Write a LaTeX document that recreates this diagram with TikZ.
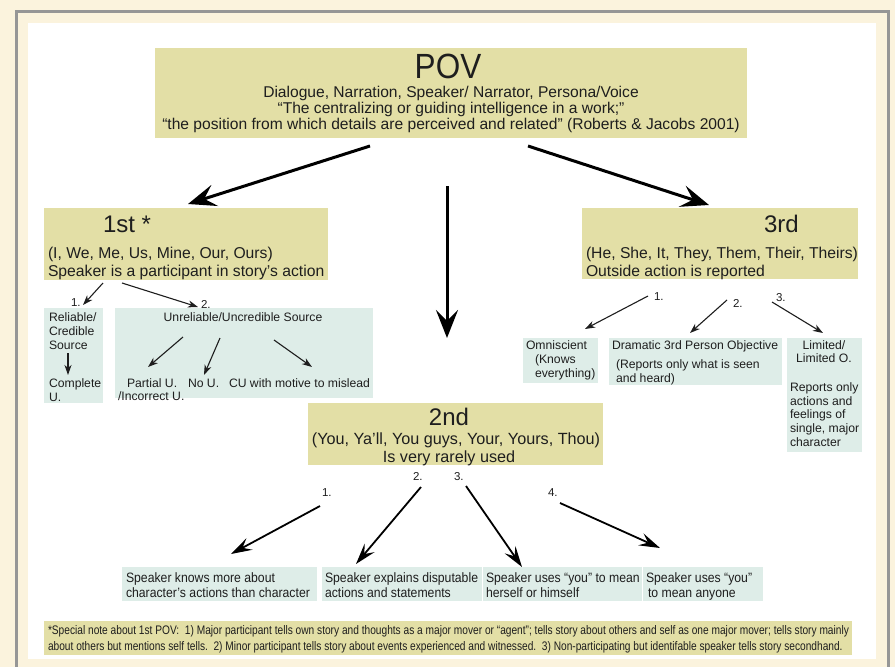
\documentclass[tikz,border=0pt]{standalone}
\usepackage{fontspec}
\setmainfont{Liberation Sans}
\newfontfamily\narrowfont[FakeStretch=0.9]{Liberation Sans}
\newfontfamily\notefont[FakeStretch=0.82]{Liberation Sans}
\usetikzlibrary{arrows.meta}
\definecolor{cream}{RGB}{251,243,221}
\definecolor{framegray}{RGB}{150,150,150}
\definecolor{khaki}{RGB}{227,223,166}
\definecolor{mint}{RGB}{222,237,232}
\definecolor{ink}{RGB}{30,30,30}
\begin{document}
\begin{tikzpicture}[x=1pt,y=-1pt,
  kbox/.style={fill=khaki, draw=none, anchor=north west, inner sep=0pt, outer sep=0pt},
  mbox/.style={fill=mint, draw=none, anchor=north west, inner sep=0pt, outer sep=0pt},
  txt/.style={inner sep=0pt, outer sep=0pt, text=ink, anchor=base west},
  ctxt/.style={txt, anchor=base},
  big/.style={font=\narrowfont\fontsize{35}{40}\selectfont},
  head/.style={font=\fontsize{24}{28}\selectfont},
  mid/.style={font=\fontsize{15.7}{18}\selectfont},
  povline/.style={font=\fontsize{15.6}{18}\selectfont},
  small/.style={font=\fontsize{12.2}{14}\selectfont},
  bot/.style={font=\narrowfont\fontsize{13.6}{16}\selectfont},
  note/.style={font=\notefont\fontsize{12.4}{14}\selectfont},
  num/.style={font=\fontsize{11.5}{13}\selectfont},
  bigarrow/.style={-{Stealth[length=28pt,width=22pt,inset=11pt]}, line width=3pt, draw=black},
  medarrow/.style={-{Stealth[length=21pt,width=13pt,inset=8pt]}, line width=1.8pt, draw=black},
  smallarrow/.style={-{Stealth[length=10pt,width=7pt,inset=3pt]}, line width=1.1pt, draw=ink}
]
% background and frame
\fill[cream] (0,0) rectangle (895,667);
\useasboundingbox (0,0) rectangle (895,667);
\fill[white] (28,23) rectangle (876,659);
\draw[framegray, line width=3.5pt] (16.5,667) -- (16.5,11.5) -- (888.5,11.5) -- (888.5,667);

% ---------- POV ----------
\node[kbox, minimum width=592pt, minimum height=90pt] (pov) at (155,48) {};
\node[ctxt, big] (povT) at (448,78) {POV};
\node[ctxt, povline] (povA) at (451,97) {Dialogue, Narration, Speaker/ Narrator, Persona/Voice};
\node[ctxt, povline] (povB) at (451,113) {“The centralizing or guiding intelligence in a work;”};
\node[ctxt, povline] (povC) at (451,129) {“the position from which details are perceived and related” (Roberts \& Jacobs 2001)};

% ---------- 1st ----------
\node[kbox, minimum width=284pt, minimum height=72pt] (first) at (44,208) {};
\node[txt, head] (firstT) at (103,232) {1st *};
\node[txt, mid] (firstA) at (48,258) {(I, We, Me, Us, Mine, Our, Ours)};
\node[txt, mid] (firstB) at (48,276) {Speaker is a participant in story’s action};

% ---------- 3rd ----------
\node[kbox, minimum width=276pt, minimum height=71pt] (third) at (582,208) {};
\node[txt, head] (thirdT) at (764,232) {3rd};
\node[txt, mid] (thirdA) at (586,258) {(He, She, It, They, Them, Their, Theirs)};
\node[txt, mid] (thirdB) at (586,276) {Outside action is reported};

% ---------- 2nd ----------
\node[kbox, minimum width=295pt, minimum height=62pt] (second) at (308,403) {};
\node[ctxt, head] (secondT) at (449,425) {2nd};
\node[ctxt, mid, font=\fontsize{16.2}{18}\selectfont] (secondA) at (456,444) {(You, Ya’ll, You guys, Your, Yours, Thou)};
\node[ctxt, mid, font=\fontsize{16.2}{18}\selectfont] (secondB) at (449,462) {Is very rarely used};

% ---------- main arrows ----------
\coordinate (pL) at (370,146);
\coordinate (fT) at (188,204);
\coordinate (pR) at (528,146);
\coordinate (tT) at (709,205);
\coordinate (pC) at (447,186);
\coordinate (sT) at (447,338);
\draw[bigarrow] (pL) -- (fT);
\draw[bigarrow] (pR) -- (tT);
\draw[bigarrow] (pC) -- (sT);

% ---------- 1st subdivisions ----------
\node[mbox, minimum width=59pt, minimum height=95pt] (rel) at (44,308) {};
\node[mbox, minimum width=258pt, minimum height=90pt] (unrel) at (115,308) {};
\node[txt, num] (n11) at (71,306) {1.};
\node[txt, num] (n12) at (201,308) {2.};
\coordinate (f1s) at (103,283);
\coordinate (f1e) at (83,305);
\coordinate (f2s) at (122,283);
\coordinate (f2e) at (198,307);
\draw[smallarrow] (f1s) -- (f1e);
\draw[smallarrow] (f2s) -- (f2e);

\node[txt, small] (relA) at (49,321) {Reliable/};
\node[txt, small] (relB) at (49,335) {Credible};
\node[txt, small] (relC) at (49,349) {Source};
\node[txt, small] (relD) at (49,387) {Complete};
\node[txt, small] (relE) at (49,401) {U.};
\coordinate (rA) at (68,353);
\coordinate (rB) at (68,375);
\draw[smallarrow] (rA) -- (rB);

\node[ctxt, small] (unA) at (243,321) {Unreliable/Uncredible Source};
\node[txt, small] (unB) at (127,387) {Partial U.};
\node[txt, small] (unC) at (188,387) {No U.};
\node[txt, small] (unD) at (229,387) {CU with motive to mislead};
\node[txt, small] (unE) at (118,400) {/Incorrect U.};
\coordinate (u1s) at (183,337);
\coordinate (u1e) at (148,367);
\coordinate (u2s) at (220,338);
\coordinate (u2e) at (204,375);
\coordinate (u3s) at (274,340);
\coordinate (u3e) at (312,367);
\draw[smallarrow] (u1s) -- (u1e);
\draw[smallarrow] (u2s) -- (u2e);
\draw[smallarrow] (u3s) -- (u3e);

% ---------- 3rd subdivisions ----------
\node[mbox, minimum width=75pt, minimum height=45pt] (omni) at (523,338) {};
\node[mbox, minimum width=173pt, minimum height=47pt] (drama) at (609,338) {};
\node[mbox, minimum width=75pt, minimum height=114pt] (lim) at (787,338) {};
\node[txt, num] (n31) at (654,300) {1.};
\node[txt, num] (n32) at (733,307) {2.};
\node[txt, num] (n33) at (776,301) {3.};
\coordinate (t1s) at (648,296);
\coordinate (t1e) at (585,329);
\coordinate (t2s) at (727,300);
\coordinate (t2e) at (690,333);
\coordinate (t3s) at (772,302);
\coordinate (t3e) at (823,333);
\draw[smallarrow] (t1s) -- (t1e);
\draw[smallarrow] (t2s) -- (t2e);
\draw[smallarrow] (t3s) -- (t3e);

\node[txt, small] (omA) at (526,349) {Omniscient};
\node[txt, small] (omB) at (535,363) {(Knows};
\node[txt, small] (omC) at (535,377) {everything)};
\node[txt, small] (drA) at (612,349) {Dramatic 3rd Person Objective};
\node[txt, small] (drB) at (616,368) {(Reports only what is seen};
\node[txt, small] (drC) at (616,382) {and heard)};
\node[ctxt, small] (liA) at (824,349) {Limited/};
\node[ctxt, small] (liB) at (824,362) {Limited O.};
\node[txt, small] (liC) at (790,391) {Reports only};
\node[txt, small] (liD) at (790,405) {actions and};
\node[txt, small] (liE) at (790,418) {feelings of};
\node[txt, small] (liF) at (790,432) {single, major};
\node[txt, small] (liG) at (790,446) {character};

% ---------- 2nd subdivisions ----------
\node[txt, num] (n21) at (322,496) {1.};
\node[txt, num] (n22) at (413,480) {2.};
\node[txt, num] (n23) at (454,480) {3.};
\node[txt, num] (n24) at (548,496) {4.};
\coordinate (s1s) at (320,506);
\coordinate (s1e) at (231,554);
\coordinate (s2s) at (421,487);
\coordinate (s2e) at (356,564);
\coordinate (s3s) at (466,486);
\coordinate (s3e) at (522,567);
\coordinate (s4s) at (560,503);
\coordinate (s4e) at (660,548);
\draw[medarrow] (s1s) -- (s1e);
\draw[medarrow] (s2s) -- (s2e);
\draw[medarrow] (s3s) -- (s3e);
\draw[medarrow] (s4s) -- (s4e);

\node[mbox, minimum width=195pt, minimum height=34pt] (b1) at (122,567) {};
\node[mbox, minimum width=160pt, minimum height=34pt] (b2) at (322,567) {};
\node[mbox, minimum width=159pt, minimum height=34pt] (b3) at (483,567) {};
\node[mbox, minimum width=120pt, minimum height=34pt] (b4) at (643,567) {};
\node[txt, bot] (b1A) at (126,582) {Speaker knows more about};
\node[txt, bot] (b1B) at (126,597) {character’s actions than character};
\node[txt, bot] (b2A) at (325,582) {Speaker explains disputable};
\node[txt, bot] (b2B) at (325,597) {actions and statements};
\node[txt, bot] (b3A) at (486,582) {Speaker uses “you” to mean};
\node[txt, bot] (b3B) at (486,597) {herself or himself};
\node[txt, bot] (b4A) at (646,582) {Speaker uses “you”};
\node[txt, bot] (b4B) at (648,597) {to mean anyone};

% ---------- footnote ----------
\node[kbox, minimum width=808pt, minimum height=34pt] (note) at (44,621) {};
\node[txt, note] (noteA) at (48,634) {*Special note about 1st POV:\ \ 1) Major participant tells own story and thoughts as a major mover or “agent”; tells story about others and self as one major mover; tells story mainly};
\node[txt, note] (noteB) at (48,650) {about others but mentions self tells.\ \ 2) Minor participant tells story about events experienced and witnessed.\ \ 3) Non-participating but identifable speaker tells story secondhand.};
\end{tikzpicture}
\end{document}
